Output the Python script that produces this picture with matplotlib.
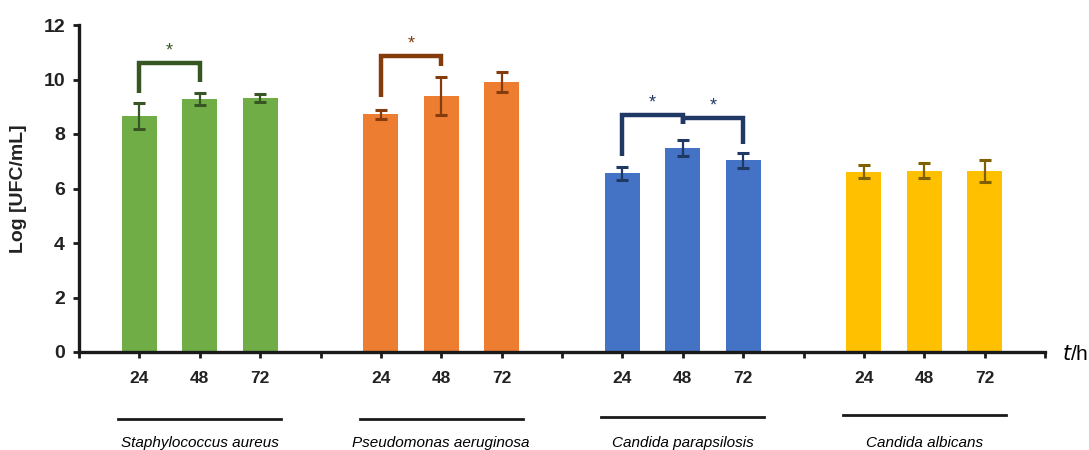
import matplotlib
matplotlib.use("Agg")
import matplotlib.pyplot as plt

# ---------------- data ----------------
organisms = ["Staphylococcus aureus", "Pseudomonas aeruginosa",
             "Candida parapsilosis", "Candida albicans"]
times = ["24", "48", "72"]
means_sa = [8.66, 9.28, 9.32]
errs_sa = [0.48, 0.21, 0.15]
means_pa = [8.72, 9.38, 9.91]
errs_pa = [0.17, 0.70, 0.37]
means_cp = [6.56, 7.50, 7.03]
errs_cp = [0.23, 0.29, 0.29]
means_ca = [6.62, 6.65, 6.64]
errs_ca = [0.23, 0.27, 0.39]

bar_colors = ["#70AD47", "#ED7D31", "#4472C4", "#FFC000"]
err_colors = ["#375623", "#843C0C", "#203864", "#7F6000"]

# significance brackets: (group, bar_i, bar_j, y_left_bottom, y_top, y_right_bottom)
brackets = [
    (0, 0, 1, 9.52, 10.62, 9.90),
    (1, 0, 1, 9.37, 10.86, 10.50),
    (2, 0, 1, 7.21, 8.71, 8.35),
    (2, 1, 2, 8.35, 8.59, 7.63),
]

plt.rcParams["font.family"] = ["Liberation Sans", "DejaVu Sans"]

fig = plt.figure(figsize=(10.89, 4.50), dpi=100)
ax = fig.add_axes([79/1089, 1 - 352/450, (1045-79)/1089, (352-25)/450])

all_means = [means_sa, means_pa, means_cp, means_ca]
all_errs = [errs_sa, errs_pa, errs_cp, errs_ca]

tick_pos, tick_lab = [], []
for g, (m, e) in enumerate(zip(all_means, all_errs)):
    xs = [4 * g + 1 + i for i in range(len(m))]
    ax.bar(xs, m, width=0.58, color=bar_colors[g], zorder=2)
    ax.errorbar(xs, m, yerr=e, fmt="none", ecolor=err_colors[g],
                elinewidth=1.6, capsize=4.3, capthick=2.2, zorder=3)
    tick_pos += xs
    tick_lab += times

for g, i, j, yl, yt, yr in brackets:
    x1 = 4 * g + 1 + i
    x2 = 4 * g + 1 + j
    ax.plot([x1, x1, x2, x2], [yl, yt, yt, yr], color=err_colors[g],
            lw=3.2, solid_joinstyle="miter", solid_capstyle="butt", zorder=4)
    ax.text((x1 + x2) / 2, yt + 0.12, "*", ha="center", va="bottom",
            color=err_colors[g], fontsize=13)

ax.set_xlim(0, 16)
ax.set_ylim(0, 12)
ax.set_yticks(range(0, 13, 2))
ax.set_xticks(tick_pos)
ax.set_xticklabels(tick_lab)
ax.set_xticks(range(0, 17, 4), minor=True)
ax.tick_params(axis="x", which="both", direction="out", length=4, width=2,
               colors="#1a1a1a", labelsize=12.5, pad=10)
ax.tick_params(axis="y", direction="out", length=4, width=2,
               labelsize=14, pad=6, colors="#1a1a1a")
for lab in ax.get_yticklabels() + ax.get_xticklabels():
    lab.set_fontweight("bold")
    lab.set_color("#222222")
for sp in ["top", "right"]:
    ax.spines[sp].set_visible(False)
for sp in ["left", "bottom"]:
    ax.spines[sp].set_linewidth(2.4)
    ax.spines[sp].set_color("#1a1a1a")

ax.set_ylabel("Log [UFC/mL]", fontsize=14, labelpad=12, fontweight="bold",
              color="#222222")

# t/h label
fig.text(1062/1089, 1 - 355/450, "$\\mathit{t}$/h", fontsize=15, va="center",
         ha="left")

# group labels with lines
line_y = [419, 419, 417, 415]
W = fig.get_figwidth() * fig.dpi
for g, name in enumerate(organisms):
    xc = 4 * g + 2
    x0 = ax.transData.transform((xc - 1.35, 0))[0] / W
    x1 = ax.transData.transform((xc + 1.35, 0))[0] / W
    ly = 1 - line_y[g] / 450
    fig.add_artist(plt.Line2D([x0, x1], [ly, ly], color="#1a1a1a", lw=2))
    xm = ax.transData.transform((xc, 0))[0] / W
    fig.text(xm, 1 - 443 / 450, name, style="italic", fontsize=11,
             ha="center", va="center")

fig.savefig("out.png", dpi=100)
